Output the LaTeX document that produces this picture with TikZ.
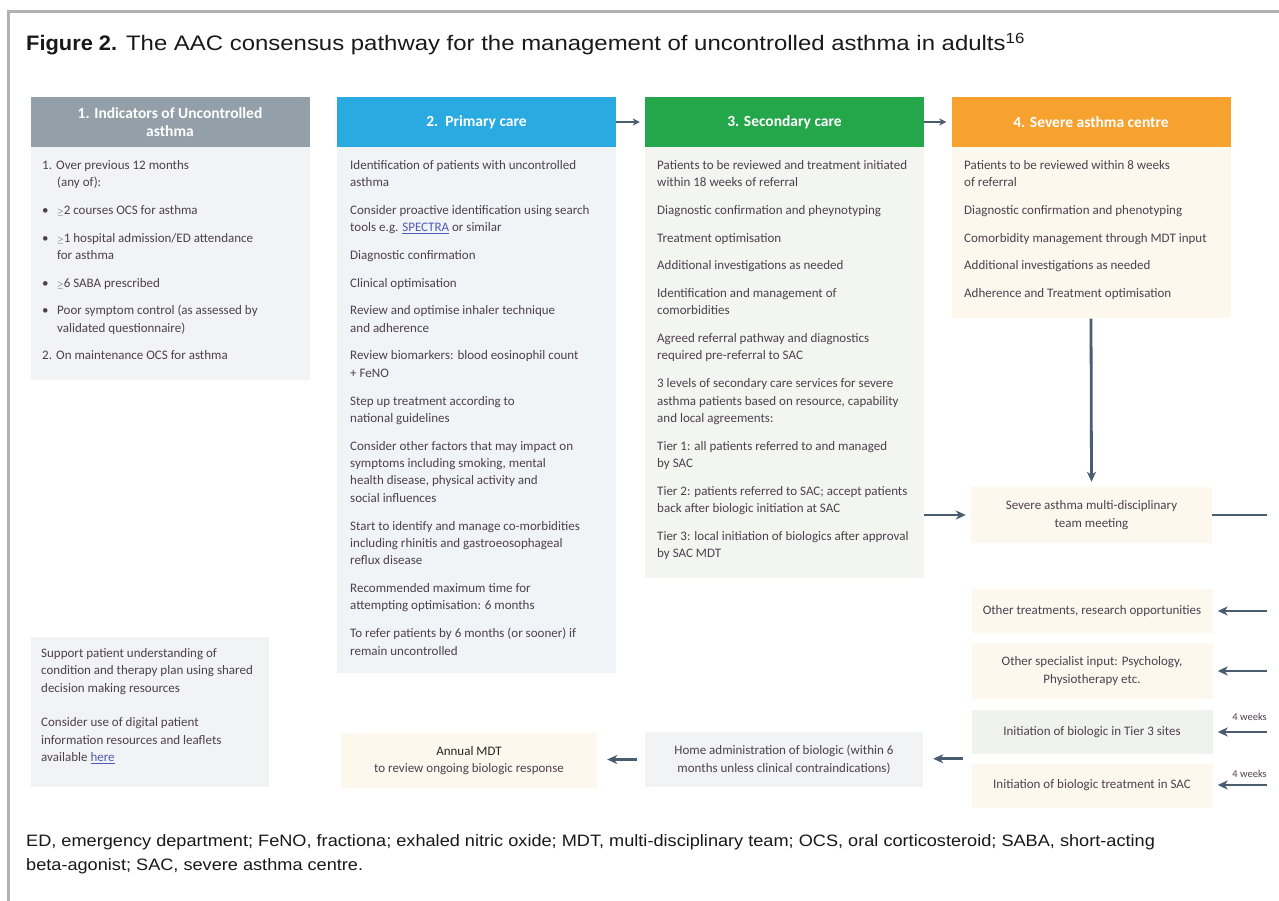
\documentclass[tikz,border=0pt]{standalone}
\usepackage{fontspec}
\setmainfont{Carlito}
\newfontfamily\capfont{Liberation Sans}[FakeStretch=1.1]
\newfontfamily\titlefont{Liberation Sans}[FakeStretch=1.14]
\newfontfamily\capbold{Liberation Sans Bold}[FakeStretch=1.04]
\usetikzlibrary{arrows.meta,positioning,calc}

\definecolor{indgrey}{RGB}{147,160,170}
\definecolor{primblue}{RGB}{41,171,226}
\definecolor{secgreen}{RGB}{36,166,74}
\definecolor{sacorange}{RGB}{247,161,47}
\definecolor{bggrey}{RGB}{241,243,244}
\definecolor{bgblue}{RGB}{240,244,247}
\definecolor{bggreen}{RGB}{242,245,240}
\definecolor{bgcream}{RGB}{252,248,238}
\definecolor{bgtier}{RGB}{240,243,237}
\definecolor{txt}{RGB}{78,64,78}
\definecolor{arrowc}{RGB}{74,92,112}
\definecolor{linkblue}{RGB}{80,90,180}
\definecolor{framegrey}{RGB}{178,178,178}

\newcommand\weblink[1]{\textcolor{linkblue}{\underline{#1}}}
\def\sk{10.3pt}

\tikzset{
  head/.style={minimum width=279, minimum height=50, inner sep=0, text=white,
    font=\bfseries\fontsize{15.5}{18}\selectfont, align=center},
  body/.style={minimum width=279, inner sep=0, anchor=north},
  btext/.style={anchor=north west, inner sep=0, align=left, text=txt,
    font=\fontsize{13}{17.4}\selectfont},
  side/.style={minimum width=241, inner sep=0, align=center, text=txt,
    font=\fontsize{13}{17.4}\selectfont},
  flow/.style={-{Stealth[length=10,width=9,inset=3]}, line width=2.8, arrowc},
  link/.style={line width=2.8, arrowc},
  hflow/.style={-{Stealth[length=7,width=7,inset=2]}, line width=2, arrowc},
  wk/.style={inner sep=0, text=txt, font=\fontsize{10.5}{10.5}\selectfont}
}

\begin{document}
\begin{tikzpicture}[x=1pt,y=-1pt]
\useasboundingbox (0,0) rectangle (1279,901);
\fill[white] (0,0) rectangle (1279,901);
\draw[framegrey, line width=3] (1279,12) -- (8,12) -- (8,901);

\node[anchor=base west, inner sep=0, text=black!90, font=\titlefont\fontsize{21}{21}\selectfont] (title) at (26,51)
  {{\capbold Figure 2.} The AAC consensus pathway for the management of uncontrolled asthma in adults\textsuperscript{16}};

% column heads
\node[head, fill=indgrey] (h1) at (170,122) {1. Indicators of Uncontrolled\\asthma};
\node[head, fill=primblue] (h2) at (476.5,122) {2.\ \ Primary care};
\node[head, fill=secgreen] (h3) at (784.5,122) {3. Secondary care};
\node[head, fill=sacorange] (h4) at (1091,122) {4. Severe asthma centre};

\draw[hflow, shorten >=5] (h2.east) -- (h3.west);
\draw[hflow, shorten >=5] (h3.east) -- (h4.west);

% column bodies
\node[body, fill=bggrey, minimum height=233] (b1) at (h1.south) {};
\node[body, fill=bgblue, minimum height=526] (b2) at (h2.south) {};
\node[body, fill=bggreen, minimum height=431] (b3) at (h3.south) {};
\node[body, fill=bgcream, minimum height=171] (b4) at (h4.south) {};

\node[btext] (t1) at (42,160) {\makebox[14pt][l]{1.}Over previous 12 months\\
  \hspace*{15pt}(any of):\\[\sk]
  \makebox[15pt][l]{\textbullet}{\footnotesize$\geq$}2 courses OCS for asthma\\[\sk]
  \makebox[15pt][l]{\textbullet}{\footnotesize$\geq$}1 hospital admission/ED attendance\\
  \hspace*{15pt}for asthma\\[\sk]
  \makebox[15pt][l]{\textbullet}{\footnotesize$\geq$}6 SABA prescribed\\[\sk]
  \makebox[15pt][l]{\textbullet}Poor symptom control (as assessed by\\
  \hspace*{15pt}validated questionnaire)\\[\sk]
  \makebox[14pt][l]{2.}On maintenance OCS for asthma};

\node[btext] (t2) at (350,160) {Identification of patients with uncontrolled\\asthma\\[\sk]
  Consider proactive identification using search\\tools e.g. \weblink{SPECTRA} or similar\\[\sk]
  Diagnostic confirmation\\[\sk]
  Clinical optimisation\\[\sk]
  Review and optimise inhaler technique\\and adherence\\[\sk]
  Review biomarkers: blood eosinophil count\\+ FeNO\\[\sk]
  Step up treatment according to\\national guidelines\\[\sk]
  Consider other factors that may impact on\\symptoms including smoking, mental\\health disease, physical activity and\\social influences\\[\sk]
  Start to identify and manage co-morbidities\\including rhinitis and gastroeosophageal\\reflux disease\\[\sk]
  Recommended maximum time for\\attempting optimisation: 6 months\\[\sk]
  To refer patients by 6 months (or sooner) if\\remain uncontrolled};

\node[btext] (t3) at (657,160) {Patients to be reviewed and treatment initiated\\within 18 weeks of referral\\[\sk]
  Diagnostic confirmation and pheynotyping\\[\sk]
  Treatment optimisation\\[\sk]
  Additional investigations as needed\\[\sk]
  Identification and management of\\comorbidities\\[\sk]
  Agreed referral pathway and diagnostics\\required pre-referral to SAC\\[\sk]
  3 levels of secondary care services for severe\\asthma patients based on resource, capability\\and local agreements:\\[\sk]
  Tier 1: all patients referred to and managed\\by SAC\\[\sk]
  Tier 2: patients referred to SAC; accept patients\\back after biologic initiation at SAC\\[\sk]
  Tier 3: local initiation of biologics after approval\\by SAC MDT};

\node[btext] (t4) at (964,160) {Patients to be reviewed within 8 weeks\\of referral\\[\sk]
  Diagnostic confirmation and phenotyping\\[\sk]
  Comorbidity management through MDT input\\[\sk]
  Additional investigations as needed\\[\sk]
  Adherence and Treatment optimisation};

% patient support
\node[fill=bggrey, minimum width=238, minimum height=150, inner sep=0] (sup) at (150,712) {};
\node[btext] (tsup) at (41,648) {Support patient understanding of\\condition and therapy plan using shared\\decision making resources\\[17.5pt]
  Consider use of digital patient\\information resources and leaflets\\available \weblink{here}};

% severe asthma centre pathway
\node[side, fill=bgcream, minimum height=56] (mdt) at (1091.5,515) {Severe asthma multi-disciplinary\\team meeting};
\node[side, fill=bgcream, minimum height=44] (oth) at (1092,611) {Other treatments, research opportunities};
\node[side, fill=bgcream, minimum height=56] (spec) at (1092,671) {Other specialist input: Psychology,\\Physiotherapy etc.};
\node[side, fill=bgtier, minimum height=44] (tier) at (1092,732) {Initiation of biologic in Tier 3 sites};
\node[side, fill=bgcream, minimum height=44] (sac) at (1092,785.5) {Initiation of biologic treatment in SAC};

\node[side, fill=bggrey, minimum width=278, minimum height=55] (home) at (784,759.5)
  {Home administration of biologic (within 6\\months unless clinical contraindications)};
\node[side, fill=bgcream, minimum width=256, minimum height=55] (annual) at (469,760.5)
  {\textcolor{black!85}{Annual MDT}\\to review ongoing biologic response};

\coordinate (r0) at (1267,515);
\coordinate (r1) at (1267,611);
\coordinate (r2) at (1267,671);
\coordinate (r3) at (1267,732);
\coordinate (r4) at (1267,785);
\coordinate (tj) at ($(tier.south west)!.5!(sac.north west)+(-8,0)$);

\draw[flow, shorten >=5] (b4.south) -- (mdt.north);
\draw[flow, shorten >=5] (mdt.west -| b3.east) -- (mdt.west);
\draw[link] (mdt.east) -- (r0);
\draw[flow, shorten >=5] (r1) -- (r1 -| oth.east);
\draw[flow, shorten >=5] (r2) -- (r2 -| spec.east);
\draw[flow, shorten >=5] (r3) -- (r3 -| tier.east);
\draw[flow, shorten >=5] (r4) -- (r4 -| sac.east);
\node[wk, anchor=base east] at ([yshift=12]r3) {4 weeks};
\node[wk, anchor=base east] at ([yshift=8]r4) {4 weeks};
\draw[flow, shorten >=10] (tj) -- (tj -| home.east);
\draw[flow, shorten <=8, shorten >=10] (home.west) -- (home.west -| annual.east);

\node[anchor=north west, inner sep=0, align=left, text=black!90, font=\capfont\fontsize{16.5}{24}\selectfont] (note) at (26,834)
  {ED, emergency department; FeNO, fractiona; exhaled nitric oxide; MDT, multi-disciplinary team; OCS, oral corticosteroid; SABA, short-acting\\
   beta-agonist; SAC, severe asthma centre.};
\end{tikzpicture}
\end{document}
